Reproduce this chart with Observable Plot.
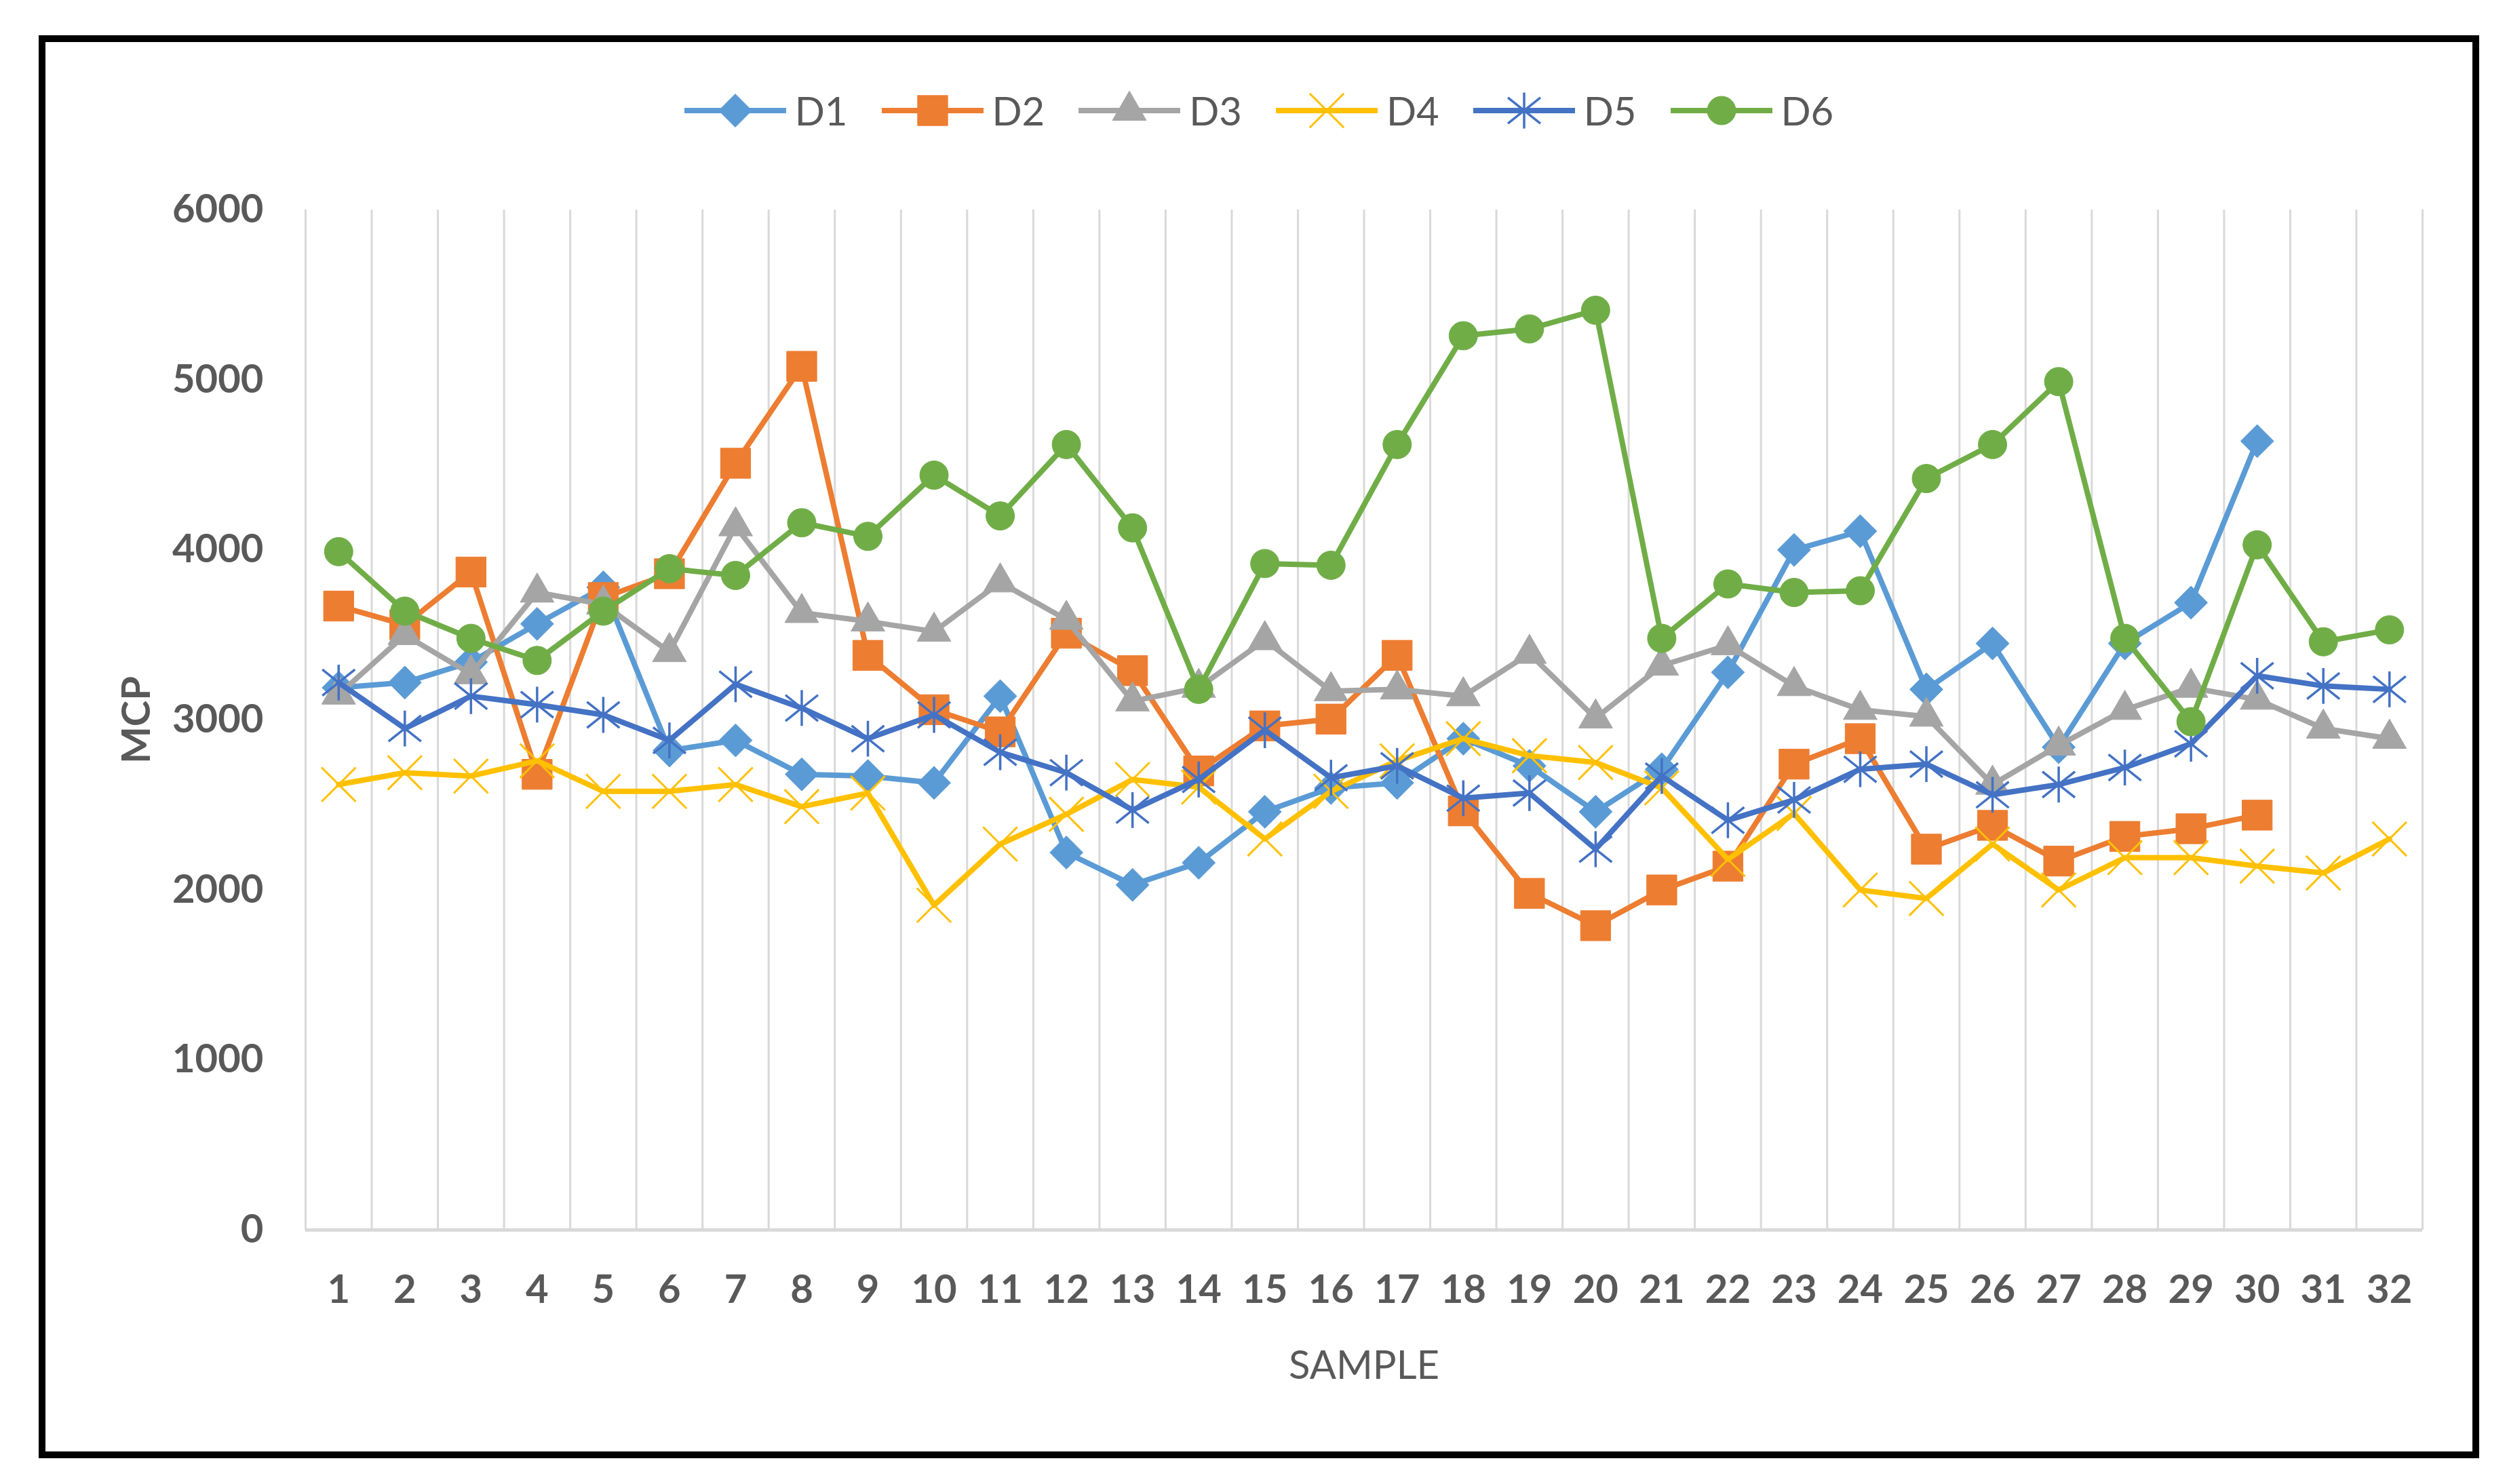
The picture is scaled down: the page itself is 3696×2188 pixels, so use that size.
<!DOCTYPE html>
<html><head><meta charset="utf-8">
<script src="https://cdn.jsdelivr.net/npm/d3@7"></script>
<script src="https://cdn.jsdelivr.net/npm/@observablehq/plot@0.6"></script>
<style>
html,body{margin:0;padding:0;background:#fff;width:3696px;height:2188px;overflow:hidden;font-family:Lato,'Liberation Sans',sans-serif;color:#595959}
#frame{position:absolute;left:57px;top:52px;width:3598px;height:2098px;border:10px solid #000;box-sizing:border-box}
#legend{position:absolute;left:57px;width:3598px;top:123px;height:80px;display:flex;justify-content:center;align-items:center}
.item{display:flex;align-items:center;margin:0 25px}
.item span{font-size:58px;margin-left:13px;line-height:1}
#chart{position:absolute;left:0;top:250px}
</style></head><body>
<div id="frame"></div>
<div id="legend"></div>
<div id="chart"></div>
<script>
const samples = [1,2,3,4,5,6,7,8,9,10,11,12,13,14,15,16,17,18,19,20,21,22,23,24,25,26,27,28,29,30,31,32];
const yTicks = [0,1000,2000,3000,4000,5000,6000];
const seriesNames = ["D1","D2","D3","D4","D5","D6"];
const seriesColors = ["#5B9BD5","#ED7D31","#A5A5A5","#FFC000","#4472C4","#70AD47"];

const D1 = [3190,3220,3340,3565,3780,2820,2880,2680,2670,2630,3140,2220,2030,2160,2460,2600,2630,2890,2730,2460,2710,3280,4000,4110,3180,3450,2840,3450,3690,4640];
const D2 = [3670,3560,3870,2680,3720,3860,4510,5080,3380,3060,2930,3510,3290,2700,2965,3005,3380,2465,1980,1790,2000,2140,2740,2890,2240,2380,2170,2315,2360,2440];
const D3 = [3150,3500,3270,3750,3680,3400,4140,3630,3580,3520,3810,3590,3110,3190,3470,3170,3180,3140,3390,3010,3320,3440,3200,3060,3020,2620,2850,3060,3190,3120,2950,2890];
const D4 = [2620,2690,2670,2760,2580,2580,2620,2490,2570,1910,2270,2445,2650,2605,2300,2580,2760,2890,2790,2750,2600,2180,2450,2000,1950,2270,2000,2190,2190,2140,2100,2300];
const D5 = [3220,2950,3140,3090,3030,2880,3210,3070,2890,3030,2810,2690,2470,2650,2940,2660,2730,2540,2570,2240,2670,2410,2530,2710,2740,2560,2620,2720,2860,3260,3200,3180];
const D6 = [3990,3640,3480,3350,3640,3890,3850,4160,4080,4440,4200,4620,4130,3180,3920,3910,4620,5260,5300,5410,3480,3800,3750,3760,4420,4620,4990,3480,2990,4030,3460,3530];
const seriesValues = [D1,D2,D3,D4,D5,D6];

// vertical line + x marker (Excel "star" marker)
const starSymbol = {
  draw(ctx, size) {
    const s = Math.sqrt(size / Math.PI);
    ctx.moveTo(0, -1.1 * s); ctx.lineTo(0, 1.1 * s);
    ctx.moveTo(-s, -0.8 * s); ctx.lineTo(s, 0.8 * s);
    ctx.moveTo(-s, 0.8 * s); ctx.lineTo(s, -0.8 * s);
  }
};
const markerSpec = [
  {symbol: "diamond2", d3sym: d3.symbolDiamond2, r: 22, filled: true, sw: 1},
  {symbol: "square", d3sym: d3.symbolSquare, r: 25, filled: true, sw: 1},
  {symbol: "triangle", d3sym: d3.symbolTriangle, r: 18.5, filled: true, sw: 1},
  {symbol: "times", d3sym: d3.symbolTimes, r: 23, filled: false, sw: 3},
  {symbol: starSymbol, d3sym: starSymbol, r: 24, filled: false, sw: 3.5},
  {symbol: "circle", d3sym: d3.symbolCircle, r: 21, filled: true, sw: 1}
];

const rowsBySeries = seriesNames.map((n, i) =>
  seriesValues[i].map((v, j) => ({series: n, sample: samples[j], value: v})));

const edges = [samples[0] - 0.5, ...samples.map(s => s + 0.5)];

const marks = [
  Plot.ruleX(edges, {y1: yTicks[0], y2: yTicks[yTicks.length - 1], stroke: "#D9D9D9", strokeWidth: 3}),
  Plot.ruleY([yTicks[0]], {stroke: "#D9D9D9", strokeWidth: 5}),
  Plot.axisY({ticks: yTicks, tickSize: 0, tickPadding: 62, fontWeight: "bold", tickFormat: d3.format("d"), label: "MCP", labelAnchor: "center", labelOffset: 271, labelArrow: "none"}),
  Plot.axisX({ticks: samples, tickSize: 0, tickPadding: 66, fontWeight: "bold", tickFormat: d => String(d), label: null}),
  Plot.axisX({ticks: [], label: "SAMPLE", labelAnchor: "center", labelOffset: 219, labelArrow: "none"})
];
seriesNames.forEach((n, i) => {
  const c = seriesColors[i], m = markerSpec[i];
  marks.push(Plot.line(rowsBySeries[i], {x: "sample", y: "value", stroke: c, strokeWidth: 8, strokeLinejoin: "round", strokeLinecap: "round"}));
  marks.push(Plot.dot(rowsBySeries[i], {x: "sample", y: "value", symbol: m.symbol, r: m.r,
    fill: m.filled ? c : "none", stroke: c, strokeWidth: m.sw}));
});

const chart = Plot.plot({
  width: 3696, height: 1850,
  marginTop: 59, marginBottom: 287, marginLeft: 450, marginRight: 125,
  x: {domain: [edges[0], edges[edges.length - 1]]},
  y: {domain: [yTicks[0], yTicks[yTicks.length - 1]]},
  style: {fontFamily: "Lato, 'Liberation Sans', sans-serif", fontSize: "58px", color: "#595959", background: "transparent", overflow: "visible"},
  marks
});
document.getElementById("chart").appendChild(chart);

// legend
const legend = d3.select("#legend");
seriesNames.forEach((n, i) => {
  const c = seriesColors[i], m = markerSpec[i];
  const item = legend.append("div").attr("class", "item");
  const svg = item.append("svg").attr("width", 150).attr("height", 70);
  svg.append("line").attr("x1", 0).attr("x2", 150).attr("y1", 35).attr("y2", 35)
    .attr("stroke", c).attr("stroke-width", 8);
  svg.append("path").attr("transform", "translate(75,35)")
    .attr("d", d3.symbol(m.d3sym, Math.PI * m.r * m.r)())
    .attr("fill", m.filled ? c : "none").attr("stroke", c).attr("stroke-width", m.sw);
  item.append("span").text(n);
});
</script>
</body></html>
